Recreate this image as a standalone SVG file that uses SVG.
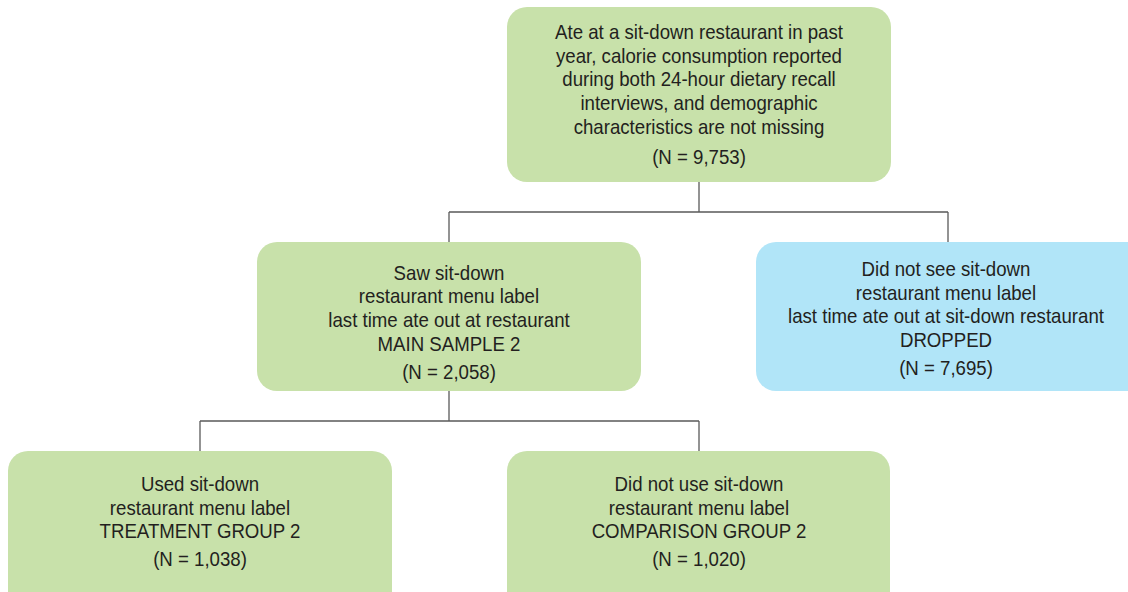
<svg xmlns="http://www.w3.org/2000/svg" width="1128" height="592" viewBox="0 0 1128 592">
<style>
.g{fill:#c8e1aa}
.b{fill:#b1e5f8}
.t{font-family:"Liberation Sans",Arial,sans-serif;font-size:20.5px;fill:#231f20;text-anchor:middle}
.c{fill:none;stroke:#5a5a5a;stroke-width:1.3}
</style>
<rect width="1128" height="592" fill="#fff"/>
<g id="connectors" class="c">
<path d="M699 182V212M449 212H948M449 212V242M948 212V242"/>
<path d="M449 391V421M200 421H699M200 421V451M699 421V451"/>
</g>
<g id="n1">
<rect class="g" x="507" y="7" width="384" height="175" rx="20"/>
<g class="t" transform="translate(699,0) scale(0.91,1)">
<text x="0" y="39">Ate at a sit-down restaurant in past</text>
<text x="0" y="63">year, calorie consumption reported</text>
<text x="0" y="86">during both 24-hour dietary recall</text>
<text x="0" y="110">interviews, and demographic</text>
<text x="0" y="134">characteristics are not missing</text>
<text x="0" y="164">(N = 9,753)</text>
</g>
</g>
<g id="n2">
<rect class="g" x="257" y="242" width="384" height="149" rx="20"/>
<g class="t" transform="translate(449,0) scale(0.91,1)">
<text x="0" y="280">Saw sit-down</text>
<text x="0" y="303">restaurant menu label</text>
<text x="0" y="327">last time ate out at restaurant</text>
<text x="0" y="351">MAIN SAMPLE 2</text>
<text x="0" y="379">(N = 2,058)</text>
</g>
</g>
<g id="n3">
<rect class="b" x="756" y="242" width="400" height="149" rx="20"/>
<g class="t" transform="translate(946,0) scale(0.91,1)">
<text x="0" y="276">Did not see sit-down</text>
<text x="0" y="300">restaurant menu label</text>
<text x="0" y="323">last time ate out at sit-down restaurant</text>
<text x="0" y="347">DROPPED</text>
<text x="0" y="375">(N = 7,695)</text>
</g>
</g>
<g id="n4">
<rect class="g" x="8" y="451" width="384" height="160" rx="20"/>
<g class="t" transform="translate(200,0) scale(0.91,1)">
<text x="0" y="491">Used sit-down</text>
<text x="0" y="515">restaurant menu label</text>
<text x="0" y="538">TREATMENT GROUP 2</text>
<text x="0" y="566">(N = 1,038)</text>
</g>
</g>
<g id="n5">
<rect class="g" x="507" y="451" width="383" height="160" rx="20"/>
<g class="t" transform="translate(699,0) scale(0.91,1)">
<text x="0" y="491">Did not use sit-down</text>
<text x="0" y="515">restaurant menu label</text>
<text x="0" y="538">COMPARISON GROUP 2</text>
<text x="0" y="566">(N = 1,020)</text>
</g>
</g>
</svg>
